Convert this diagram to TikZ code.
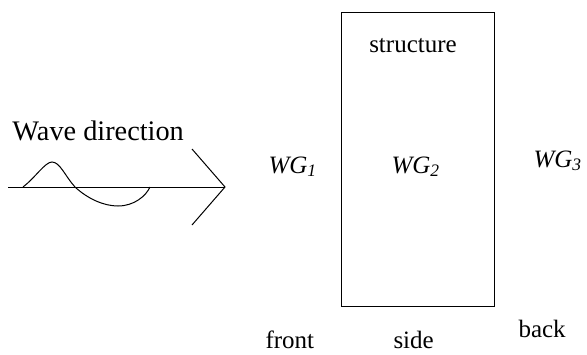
\documentclass[tikz,border=0pt]{standalone}
\usepackage{fontspec}
\setmainfont{Liberation Serif}
\begin{document}
\begin{tikzpicture}[x=1pt,y=1pt,line width=1pt,
  lbl/.style={inner sep=0pt,font=\fontsize{25}{30}\selectfont},
  big/.style={inner sep=0pt,font=\fontsize{28.3}{34}\selectfont}]
\useasboundingbox (0,0) rectangle (587,-354);
% structure box
\node[draw,minimum width=153.3pt,minimum height=294pt,inner sep=0pt] (box) at (418.3,-159.7) {};
\node[lbl,anchor=base] (st) at (413,-52) {structure};
\node[lbl,anchor=base west] (wg1) at (268,-173) {\textit{WG}\textsubscript{\textit{1}}};
\node[lbl,anchor=base west] (wg2) at (391,-173) {\textit{WG}\textsubscript{\textit{2}}};
\node[lbl,anchor=base west] (wg3) at (533,-167) {\textit{WG}\textsubscript{\textit{3}}};
\node[lbl,anchor=base west] (fr) at (265,-348) {front};
\node[lbl,anchor=base west] (sd) at (393,-348) {side};
\node[lbl,anchor=base west] (bk) at (518,-337) {back};
\node[big,anchor=base west] (wd) at (12,-140) {Wave direction};
% arrow
\coordinate (l0) at (8,-187);
\coordinate (tip) at (225,-187);
\coordinate (ct) at (192,-149);
\coordinate (cb) at (192,-225);
\draw (l0) -- (tip);
\draw (ct) -- (tip) -- (cb);
% wave
\coordinate (w0) at (23,-187);
\coordinate (w1) at (52,-162);
\coordinate (w2) at (75,-187);
\coordinate (w3) at (118,-206);
\coordinate (w4) at (150,-187);
\draw (w0) .. controls (35,-178) and (45,-162) .. (w1)
  .. controls (60,-162) and (65,-176) .. (w2)
  .. controls (88,-199) and (104,-206) .. (w3)
  .. controls (134,-206) and (146,-196) .. (w4);
\end{tikzpicture}
\end{document}
